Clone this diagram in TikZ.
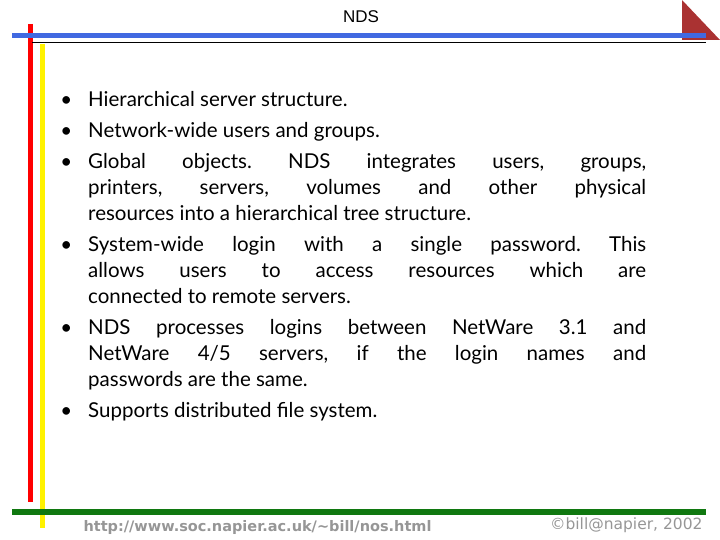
\documentclass[tikz,border=0pt]{standalone}
\usepackage{fontspec}
\setmainfont{Lato}
\newfontfamily\arial{Liberation Sans}
\newfontfamily\dv{DejaVu Sans}
\definecolor{barblue}{RGB}{65,105,225}
\definecolor{bargreen}{RGB}{16,120,16}
\definecolor{tri}{RGB}{170,50,50}
\definecolor{foot}{RGB}{150,150,150}
\tikzset{bar/.style={line width=5pt}, body/.style={anchor=north west, inner sep=0pt}}
\begin{document}
\begin{tikzpicture}[x=1pt,y=-1pt]
\useasboundingbox (0,0) rectangle (720,540);
\fill[tri] (682,0) -- (682,40) -- (720,40) -- cycle;
\draw[bar, red] (30,24) -- (30,502);
\draw[bar, yellow] (42,44) -- (42,528);
\draw[bar, barblue] (12,36) -- (706,36);
\draw[black, line width=0.8pt] (32,42) -- (706,42);
\draw[line width=6pt, bargreen] (12,512) -- (706,512);
\node[anchor=base, font=\arial\fontsize{17}{20}\selectfont] (title) at (361,23) {NDS};
\node[body] (list) at (58,91) {\begin{minipage}{588pt}\fontsize{20.5}{26}\selectfont\frenchspacing
\setlength{\leftmargini}{30pt}\setlength{\labelsep}{16pt}
\begin{itemize}\setlength{\itemsep}{5pt}\setlength{\parskip}{0pt}
\item Hierarchical server structure.
\item Network-wide users and groups.
\item Global objects. NDS integrates users, groups,\linebreak printers, servers, volumes and other physical\linebreak resources into a hierarchical tree structure.
\item System-wide login with a single password. This\linebreak allows users to access resources which are\linebreak connected to remote servers.
\item NDS processes logins between Net\-Ware 3.1 and\linebreak Net\-Ware 4/5 servers, if the login names and\linebreak passwords are the same.
\item Supports distributed file system.
\end{itemize}\end{minipage}};
\node[anchor=base west, text=foot, font=\dv\bfseries\fontsize{14.5}{16}\selectfont] (url) at (80,531) {http://www.soc.napier.ac.uk/\textasciitilde bill/nos.html};
\node[anchor=base east, text=foot, font=\dv\fontsize{15.5}{18}\selectfont] (copy) at (706,529) {©bill@napier, 2002};
\end{tikzpicture}
\end{document}
